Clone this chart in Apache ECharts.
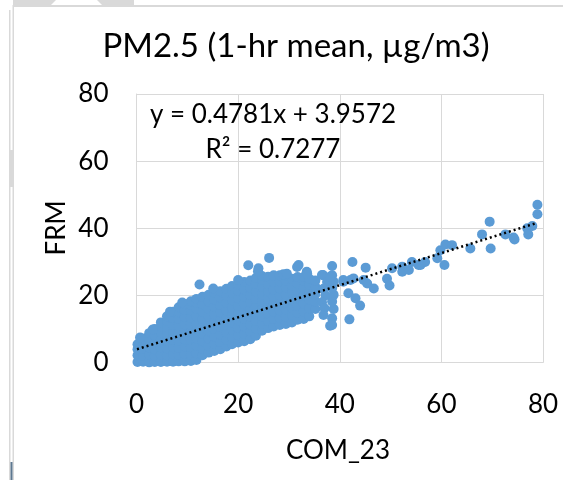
<!DOCTYPE html>
<html>
<head>
<meta charset="utf-8">
<script src="https://cdn.jsdelivr.net/npm/echarts@6/dist/echarts.min.js"></script>
<style>
html,body{margin:0;padding:0;background:#fff;}
#chart{width:563px;height:480px;}
</style>
</head>
<body>
<div id="chart"></div>
<script>
// ---- data ----
const titleText = 'PM2.5 (1-hr mean, µg/m3)';
const xName = 'COM_23';
const yName = 'FRM';
const xTicks = [0, 20, 40, 60, 80];
const yTicks = [0, 20, 40, 60, 80];
const eqLine1 = 'y = 0.4781x + 3.9572';
const eqLine2 = 'R² = 0.7277';
const slope = 0.4781;
const intercept = 3.9572;
const trendRange = [0.1, 78.9];

// dense cloud: x positions of columns and FRM values read along each column
const cloudX = [0.2, 1.3, 2.5, 3.6, 4.8, 6.0, 7.2, 8.3, 9.5, 10.7, 11.8, 13.0, 14.2, 15.3, 16.5, 17.7,
  18.8, 20.0, 21.2, 22.4, 23.5, 24.7, 25.9, 27.0, 28.2, 29.4, 30.6, 31.7, 32.9, 34.0, 35.2];
const cloudY = [
  [0.2, 2.2, 4.0, 5.5],
  [0.3, 2.0, 4.2, 6.0, 7.2],
  [0.1, 2.3, 4.5, 6.6, 8.8],
  [0.2, 2.1, 4.0, 6.0, 8.2, 10.0],
  [0.2, 2.4, 4.6, 6.8, 9.0, 10.8, 12.0],
  [0.3, 2.2, 4.3, 6.5, 8.6, 10.6, 12.4, 13.8],
  [0.3, 2.5, 4.6, 6.8, 9.0, 11.2, 13.3, 15.2],
  [0.4, 2.3, 4.4, 6.5, 8.7, 10.9, 13.0, 15.0, 16.5],
  [0.4, 2.6, 4.8, 7.0, 9.2, 11.4, 13.6, 15.7, 17.5],
  [0.5, 2.4, 4.6, 6.8, 9.0, 11.2, 13.4, 15.6, 17.2, 18.3],
  [0.8, 2.8, 5.0, 7.2, 9.4, 11.6, 13.8, 16.0, 17.8, 19.0],
  [2.2, 4.2, 6.4, 8.6, 10.8, 13.0, 15.2, 17.4, 19.6],
  [3.0, 5.0, 7.2, 9.4, 11.6, 13.8, 16.0, 18.2, 20.2],
  [3.5, 5.6, 7.8, 10.0, 12.2, 14.4, 16.6, 18.8, 20.8],
  [4.0, 6.2, 8.4, 10.6, 12.8, 15.0, 17.2, 19.4, 21.3],
  [4.8, 6.8, 9.0, 11.2, 13.4, 15.6, 17.8, 20.0, 22.0],
  [5.5, 7.6, 9.8, 12.0, 14.2, 16.4, 18.6, 20.8, 22.8],
  [6.0, 8.2, 10.4, 12.6, 14.8, 17.0, 19.2, 21.4, 23.3],
  [6.4, 8.6, 10.8, 13.0, 15.2, 17.4, 19.6, 21.8, 24.0],
  [7.0, 9.2, 11.4, 13.6, 15.8, 18.0, 20.2, 22.4, 24.5],
  [8.0, 10.2, 12.4, 14.6, 16.8, 19.0, 21.2, 23.4, 25.2],
  [9.5, 11.6, 13.8, 16.0, 18.2, 20.4, 22.6, 24.6, 25.8],
  [10.3, 12.4, 14.6, 16.8, 19.0, 21.2, 23.4, 25.6],
  [10.8, 13.0, 15.2, 17.4, 19.6, 21.8, 24.0, 26.0],
  [11.2, 13.4, 15.6, 17.8, 20.0, 22.2, 24.2, 26.0],
  [11.5, 13.6, 15.8, 18.0, 20.2, 22.4, 24.4, 26.0],
  [12.0, 14.2, 16.4, 18.6, 20.8, 23.0, 25.0],
  [12.8, 14.9, 17.0, 19.2, 21.4, 23.6, 25.5],
  [13.0, 15.2, 17.6, 20.0, 22.2, 24.4, 25.5],
  [13.8, 16.2, 18.8, 21.0, 23.2, 25.0],
  [16.0, 18.2, 20.4, 22.6, 24.5]
];

// isolated points along the upper edge of the cloud
const upperPoints = [
  [0.7, 7.5], [3.2, 9.9], [6.6, 15.2], [9.0, 17.9], [12.4, 23.3], [15.1, 22.1], [20.0, 24.6],
  [22.0, 29.0], [24.0, 28.1], [23.9, 27.2], [26.1, 31.2], [28.9, 26.3], [29.6, 26.5],
  [31.9, 29.1], [31.6, 28.5], [33.5, 27.1], [33.6, 26.5], [36.7, 26.1]
];

// points beyond the dense cloud
const tailPoints = [
  [36.5, 26.1], [37.5, 24.0], [36.8, 22.0], [37.2, 20.0], [36.5, 18.0], [37.0, 16.2], [36.8, 14.2],
  [38.1, 11.0], [38.5, 13.2], [38.5, 11.2], [38.8, 16.0], [38.5, 18.2], [38.8, 20.2], [38.5, 22.2],
  [38.8, 24.1], [38.5, 26.0], [38.5, 28.8], [38.1, 25.6],
  [40.7, 24.1], [40.7, 24.6], [42.1, 24.6], [42.7, 25.1], [42.5, 30.0], [44.7, 24.6], [45.1, 28.3],
  [41.7, 20.7], [43.1, 19.2], [44.0, 17.0], [41.9, 12.9], [45.4, 23.6], [46.7, 22.1],
  [49.3, 25.0], [49.8, 23.0], [50.3, 28.1], [52.3, 28.6], [52.3, 27.1], [53.6, 27.6],
  [54.2, 30.0], [55.5, 29.1], [55.9, 29.1], [56.8, 30.0], [59.2, 31.1], [60.6, 29.1],
  [59.8, 33.5], [60.8, 35.2], [62.1, 35.0], [65.7, 34.0], [68.0, 38.2], [69.5, 42.0],
  [69.7, 34.0], [72.6, 38.2], [74.2, 37.3], [74.4, 36.7], [76.9, 40.0], [77.1, 38.2],
  [77.9, 40.7], [78.9, 44.2], [78.9, 47.0]
];

// ---- build ----
const cloudPoints = [];
cloudX.forEach(function (x, i) {
  cloudY[i].forEach(function (y) { cloudPoints.push([x, y]); });
});
const allPoints = cloudPoints.concat(upperPoints, tailPoints);
const trendData = trendRange.map(function (x) { return [x, slope * x + intercept]; });

const FONT = 'Lato, "Open Sans", sans-serif';
const grid = { left: 136.5, right: 20, top: 94, bottom: 117.3 };
const gridColor = '#d9d9d9';

const chart = echarts.init(document.getElementById('chart'), null, { renderer: 'canvas' });
chart.setOption({
  animation: false,
  backgroundColor: '#ffffff',
  grid: grid,
  xAxis: {
    type: 'value', min: xTicks[0], max: xTicks[xTicks.length - 1], interval: 20,
    axisLine: { show: true, lineStyle: { color: gridColor, width: 1 } },
    axisTick: { show: false },
    splitLine: { show: true, lineStyle: { color: gridColor, width: 1 } },
    axisLabel: { color: '#000', fontFamily: FONT, fontSize: 26, margin: 29 }
  },
  yAxis: {
    type: 'value', min: yTicks[0], max: yTicks[yTicks.length - 1], interval: 20,
    axisLine: { show: true, lineStyle: { color: gridColor, width: 1 } },
    axisTick: { show: false },
    splitLine: { show: true, lineStyle: { color: gridColor, width: 1 } },
    axisLabel: { color: '#000', fontFamily: FONT, fontSize: 26, margin: 28 }
  },
  series: [
    {
      type: 'scatter', data: allPoints, symbol: 'circle', symbolSize: 10,
      itemStyle: { color: '#5B9BD5', opacity: 1 }, z: 2
    },
    {
      type: 'line', data: trendData, symbol: 'none', z: 3,
      lineStyle: { color: '#000', width: 2.5, type: [2, 3], cap: 'butt' }
    }
  ],
  graphic: [
    // screenshot frame remnants
    { type: 'polygon', shape: { points: [[13, 0], [56, 0], [51, 5], [13, 5]] }, style: { fill: '#d9d9d9' } },
    { type: 'polygon', shape: { points: [[97, 0], [134, 0], [134, 5], [102, 5]] }, style: { fill: '#d9d9d9' } },
    { type: 'rect', shape: { x: 13, y: 5, width: 550, height: 2 }, style: { fill: '#d9d9d9' } },
    { type: 'rect', shape: { x: 9, y: 10, width: 1.5, height: 470 }, style: { fill: '#d9d9d9' } },
    { type: 'rect', shape: { x: 12.5, y: 5, width: 1.5, height: 475 }, style: { fill: '#d9d9d9' } },
    { type: 'rect', shape: { x: 10, y: 150, width: 4, height: 37 }, style: { fill: '#d9d9d9' } },
    { type: 'rect', shape: { x: 10.5, y: 462, width: 2, height: 18 }, style: { fill: '#5d7891' } },
    // title and labels
    { type: 'text', x: 296, y: 46, style: { text: titleText, fill: '#000', font: '33px ' + FONT, textAlign: 'center', textVerticalAlign: 'middle' } },
    { type: 'text', x: 273, y: 115, z: 10, style: { text: eqLine1, fill: '#000', font: '26px ' + FONT, textAlign: 'center', textVerticalAlign: 'middle' } },
    { type: 'text', x: 273, y: 150, z: 10, style: { text: eqLine2, fill: '#000', font: '26px ' + FONT, textAlign: 'center', textVerticalAlign: 'middle' } },
    { type: 'text', x: 338, y: 451, style: { text: xName, fill: '#000', font: '26px ' + FONT, textAlign: 'center', textVerticalAlign: 'middle' } },
    { type: 'text', x: 57, y: 228, rotation: Math.PI / 2, style: { text: yName, fill: '#000', font: '26px ' + FONT, textAlign: 'center', textVerticalAlign: 'middle' } }
  ]
});
</script>
</body>
</html>
